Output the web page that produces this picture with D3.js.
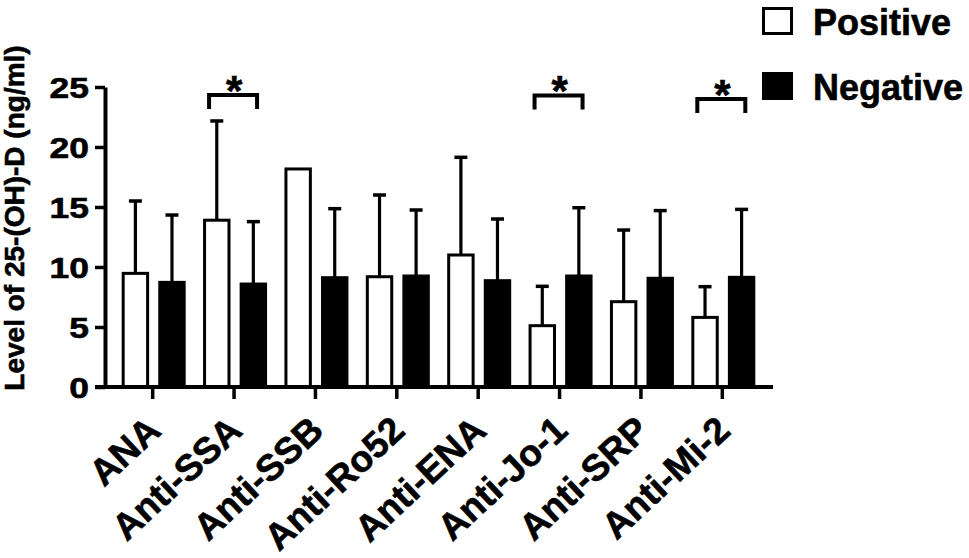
<!DOCTYPE html>
<html>
<head>
<meta charset="utf-8">
<script src="https://d3js.org/d3.v7.min.js"></script>
<style>
  body { margin: 0; background: #fff; }
  text { font-family: "Liberation Sans", Arial, sans-serif; font-weight: bold; fill: #000; stroke: #000; stroke-width: 0.6px; }
</style>
</head>
<body>
<script>
// chart values
var categories = ["ANA", "Anti-SSA", "Anti-SSB", "Anti-Ro52", "Anti-ENA", "Anti-Jo-1", "Anti-SRP", "Anti-Mi-2"]
var groups = ["Positive", "Negative"]
var positiveMean = [9.47, 13.9, 18.17, 9.19, 11.0, 5.11, 7.11, 5.8]
var positiveSD   = [6.03, 8.27, 0, 6.81, 8.14, 3.28, 5.97, 2.56]
var negativeMean = [8.72, 8.58, 9.11, 9.25, 8.86, 9.25, 9.06, 9.14]
var negativeSD   = [5.61, 5.2, 5.75, 5.5, 5.14, 5.69, 5.64, 5.66]
var yTicks = [0, 5, 10, 15, 20, 25]
var sigCategories = ["Anti-SSA", "Anti-Jo-1", "Anti-Mi-2"]
var sigLevels = [24.33, 24.3, 24.0]
var yLabel = "Level of 25-(OH)-D (ng/ml)"

var width = 969, height = 558

var svg = d3.select("body").append("svg")
    .attr("width", width)
    .attr("height", height)

var x = d3.scaleBand()
    .domain(categories)
    .range([112, 763])

var xSub = d3.scaleBand()
    .domain(groups)
    .range([-31, 33])
    .paddingInner(0.25)

var y = d3.scaleLinear()
    .domain([0, 25])
    .range([387, 87])

var axisX = 105

// rows for the bars
var rows = []
categories.forEach(function(c, i) {
    rows.push({cat: c, group: "Positive", mean: positiveMean[i], sd: positiveSD[i]})
    rows.push({cat: c, group: "Negative", mean: negativeMean[i], sd: negativeSD[i]})
})

function barLeft(d) {
    return x(d.cat) + x.bandwidth() / 2 + xSub(d.group)
}

// Error bars (behind bars)
var err = svg.append("g").attr("class", "errorbars")
rows.filter(function(d) { return d.sd > 0 }).forEach(function(d) {
    var cx = barLeft(d) + xSub.bandwidth() / 2
    err.append("line")
        .attr("x1", cx).attr("x2", cx)
        .attr("y1", y(d.mean)).attr("y2", y(d.mean + d.sd))
        .style("stroke", "black")
        .style("stroke-width", 3.2)
    err.append("line")
        .attr("x1", cx - 6.5).attr("x2", cx + 6.5)
        .attr("y1", y(d.mean + d.sd)).attr("y2", y(d.mean + d.sd))
        .style("stroke", "black")
        .style("stroke-width", 3.5)
})

// Bars
svg.append("g").attr("class", "bars")
    .selectAll("rect")
    .data(rows)
    .enter().append("rect")
    .attr("x", function(d) { return barLeft(d) + 1.5 })
    .attr("width", xSub.bandwidth() - 3)
    .attr("y", function(d) { return y(d.mean) })
    .attr("height", function(d) { return y(0) - y(d.mean) })
    .style("fill", function(d) { return d.group == "Positive" ? "white" : "black" })
    .style("stroke", "black")
    .style("stroke-width", 3)

// Y axis
var yAxis = svg.append("g")
    .attr("transform", "translate(" + axisX + ",0)")
    .call(d3.axisLeft(y).tickValues(yTicks).tickSize(10).tickSizeOuter(0))
yAxis.select(".domain").style("stroke-width", 4)
yAxis.selectAll(".tick line").style("stroke-width", 3.5)
yAxis.selectAll(".tick text").remove()
yAxis.selectAll(".tick").append("text")
    .attr("transform", "translate(-16,10.5) scale(1.2,1)")
    .attr("text-anchor", "end")
    .style("font-size", "29.5px")
    .text(function(d) { return d })

// X axis
var xAxis = svg.append("g")
    .attr("transform", "translate(0," + y(0) + ")")
    .call(d3.axisBottom(x).tickSize(12).tickSizeOuter(0))
xAxis.select(".domain").remove()
xAxis.append("line")
    .attr("x1", axisX - 10).attr("x2", x.range()[1] + 10)
    .attr("y1", 0).attr("y2", 0)
    .style("stroke", "black")
    .style("stroke-width", 4)
xAxis.selectAll(".tick line").style("stroke-width", 3.5)
xAxis.selectAll(".tick text").remove()
xAxis.selectAll(".tick").append("text")
    .attr("transform", "translate(10,46) rotate(-43)")
    .attr("text-anchor", "end")
    .style("font-size", "37px")
    .text(function(d) { return d })

// Y label
svg.append("text")
    .attr("transform", "translate(24,218) rotate(-90)")
    .attr("text-anchor", "middle")
    .style("font-size", "28px")
    .text(yLabel)

// Significance brackets
sigCategories.forEach(function(c, i) {
    var cx = x(c) + x.bandwidth() / 2
    var by = y(sigLevels[i])
    svg.append("path")
        .attr("d", "M" + (cx - 25) + "," + (by + 14) + "V" + by + "H" + (cx + 23) + "V" + (by + 14))
        .style("fill", "none")
        .style("stroke", "black")
        .style("stroke-width", 4)
    svg.append("text")
        .attr("x", cx)
        .attr("y", by + 10)
        .attr("text-anchor", "middle")
        .style("font-size", "42px")
        .text("*")
})

// Legend
var legend = svg.append("g").attr("class", "legend")
groups.forEach(function(g, i) {
    var ly = 7 + i * 65
    legend.append("rect")
        .attr("x", 763.5).attr("y", ly + 1.5)
        .attr("width", 28).attr("height", 25)
        .style("fill", g == "Positive" ? "white" : "black")
        .style("stroke", "black")
        .style("stroke-width", 3)
    legend.append("text")
        .attr("x", 813).attr("y", ly + 27.5)
        .style("font-size", "36px")
        .text(g)
})
</script>
</body>
</html>
